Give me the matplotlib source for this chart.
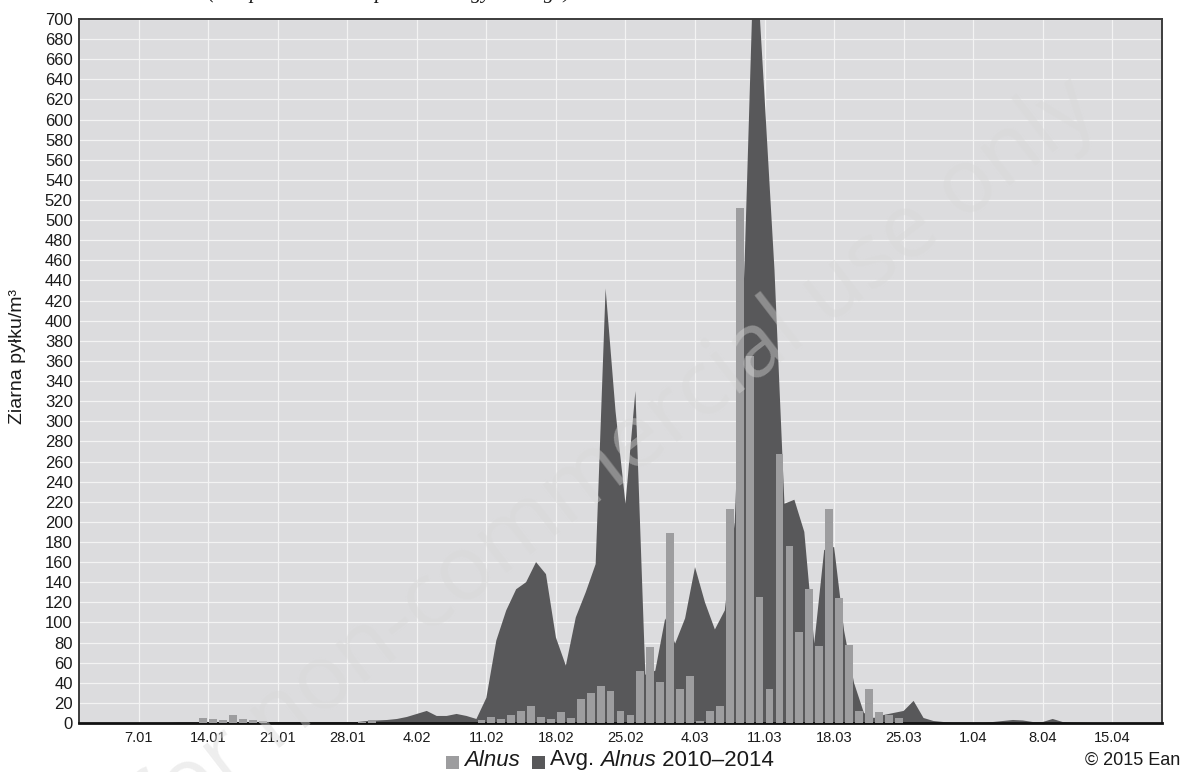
import matplotlib
matplotlib.use("Agg")
import matplotlib.pyplot as plt
import matplotlib.dates as mdates
from matplotlib.patches import Rectangle
import pandas as pd

# ---------------- data ----------------
start_date = "2015-01-01"
n_days = 110  # 1.01 .. 20.04

# Avg. Alnus 2010-2014 (area), one value per day from 1.01
avg_alnus = [
    0, 0, 0, 0, 0, 0, 0, 0, 0, 0,
    0.5, 0.5, 0.5, 0.5, 0.5, 0.5, 0.5, 0.5, 0.5,
    1, 1, 1, 1, 1, 1, 1, 1, 1,
    1, 2, 2.5, 3, 4, 6, 9, 12, 7, 7,
    9, 7, 4, 25, 82, 112, 133, 140, 160, 148,
    85, 57, 105, 130, 158, 432, 310, 218, 330, 48,
    52, 104, 79, 104, 155, 120, 93, 112, 200, 460,
    790, 622, 450, 218, 222, 190, 79, 172, 175, 92,
    40, 10, 5, 8, 10, 12, 22, 5, 2, 1,
    0.5, 0.5, 0.5, 0.5, 1, 2, 3, 2.5, 1, 1,
    4, 1, 0.5, 0.3, 0, 0, 0, 0, 0, 0,
    0, 0,
]

# Alnus 2015 (bars), one value per day from 1.01 to 19.04
alnus = [
    0, 0, 0, 0, 0, 0, 0, 0, 0, 0, 0, 0,
    5, 4, 3, 8, 4, 3, 2,
    0, 0, 0, 0, 0, 0, 0, 0, 0,
    1, 3,
    0, 0, 0, 0, 0, 0, 0, 0, 0, 0,
    3, 6, 4, 8, 12, 17, 6, 4, 11, 5,
    24, 30, 37, 32, 12, 8, 52, 76, 41, 189,
    34, 47, 2, 12, 17, 213, 512, 365, 125, 34,
    267, 176, 90, 133, 77, 213, 124, 78, 12, 34,
    11, 8, 5,
    0, 0, 0, 0, 0, 0, 0, 0, 0, 0, 0, 0, 0,
    0, 0, 0, 0, 0, 0, 0, 0, 0, 0, 0, 0, 0,
]

tick_dates = ["2015-01-07", "2015-01-14", "2015-01-21", "2015-01-28",
              "2015-02-04", "2015-02-11", "2015-02-18", "2015-02-25",
              "2015-03-04", "2015-03-11", "2015-03-18", "2015-03-25",
              "2015-04-01", "2015-04-08", "2015-04-15"]
tick_labels = ["7.01", "14.01", "21.01", "28.01", "4.02", "11.02", "18.02",
               "25.02", "4.03", "11.03", "18.03", "25.03", "1.04", "8.04",
               "15.04"]

y_label = "Ziarna pyłku/m³"
legend_bar = "Alnus"
legend_area_parts = ["Avg. ", "Alnus", " 2010–2014"]
copyright_text = "© 2015 Ean"
watermark = "for non-commercial use only"
top_caption = "(compared with the pollen allergy average)"

# ---------------- style ----------------
W, H = 1182, 772
plt.rcParams['font.family'] = ['Liberation Sans', 'DejaVu Sans']

BG = '#dcdcde'
AREA = '#58585a'
BAR = '#9d9d9f'

fig = plt.figure(figsize=(W / 100, H / 100), dpi=100)
L, R, T, B = 79, 1162, 19, 723
ax = fig.add_axes([L / W, 1 - B / H, (R - L) / W, (B - T) / H])
ax.set_facecolor(BG)

days = pd.date_range(start_date, periods=n_days, freq="D")
x = mdates.date2num(days)

ax.fill_between(x, avg_alnus, 0, color=AREA, lw=0, zorder=2)
ax.bar(x[:len(alnus)] + 0.5, alnus, width=0.78, color=BAR, lw=0, zorder=3)

ax.set_xlim(x[0], x[-1])
ax.set_ylim(0, 700)
ax.set_yticks(range(0, 701, 20))
ax.set_xticks(mdates.date2num(pd.to_datetime(tick_dates)))
ax.set_xticklabels(tick_labels, fontsize=10.5,
                   family=['Liberation Sans Narrow', 'Liberation Sans'])
ax.tick_params(axis='y', length=0, pad=4.5, labelsize=12, colors='#1a1a1a')
ax.tick_params(axis='x', length=0, pad=6, colors='#1a1a1a')
ax.set_axisbelow(True)
ax.grid(True, color='#f3f3f3', lw=0.9)

for s in ['top', 'left', 'right']:
    ax.spines[s].set_color('#3c3c3c')
    ax.spines[s].set_linewidth(1.4)
ax.spines['bottom'].set_color('#111111')
ax.spines['bottom'].set_linewidth(2.0)

fig.text(18 / W, 1 - 357 / H, y_label, rotation=90, ha='center', va='center',
         fontsize=14, color='#1a1a1a')

# cut-off caption line at the very top (only its lowest part visible)
fig.text(208 / W, 1 + 2 / H, top_caption, ha='left', va='baseline',
         fontsize=15, style='italic', family=['Liberation Serif', 'DejaVu Serif'],
         color='#1a1a1a')

# ---------------- legend (manual) ----------------
fig.canvas.draw()
rend = fig.canvas.get_renderer()
ly = 760
leg_fs = 16


def put_text(xpx, s, **kw):
    t = fig.text(xpx / W, 1 - ly / H, s, ha='left', va='center',
                 fontsize=leg_fs, color='#1a1a1a', **kw)
    bb = t.get_window_extent(renderer=rend)
    return bb.x1


def put_square(xpx, color):
    sz = 13
    fig.add_artist(Rectangle((xpx / W, (H - ly - sz / 2 - 2) / H), sz / W, sz / H,
                             transform=fig.transFigure, color=color, lw=0))
    return xpx + sz


xx = put_square(446, BAR)
xx = put_text(xx + 5, legend_bar, style='italic')
xx = put_square(xx + 12, AREA)
xx = put_text(xx + 5, legend_area_parts[0])
xx = put_text(xx, legend_area_parts[1], style='italic')
xx = put_text(xx, legend_area_parts[2])

fig.text(1180 / W, 1 - ly / H, copyright_text, ha='right', va='center',
         fontsize=13, color='#1a1a1a')

# ---------------- watermark ----------------
fig.text(616 / W, 1 - 459 / H, watermark, rotation=37.6, rotation_mode='anchor',
         ha='center', va='center', fontsize=64, color='#d8d8d8', alpha=0.42,
         family=['Open Sans', 'DejaVu Sans'], zorder=10)

fig.savefig("out.png", dpi=100)
